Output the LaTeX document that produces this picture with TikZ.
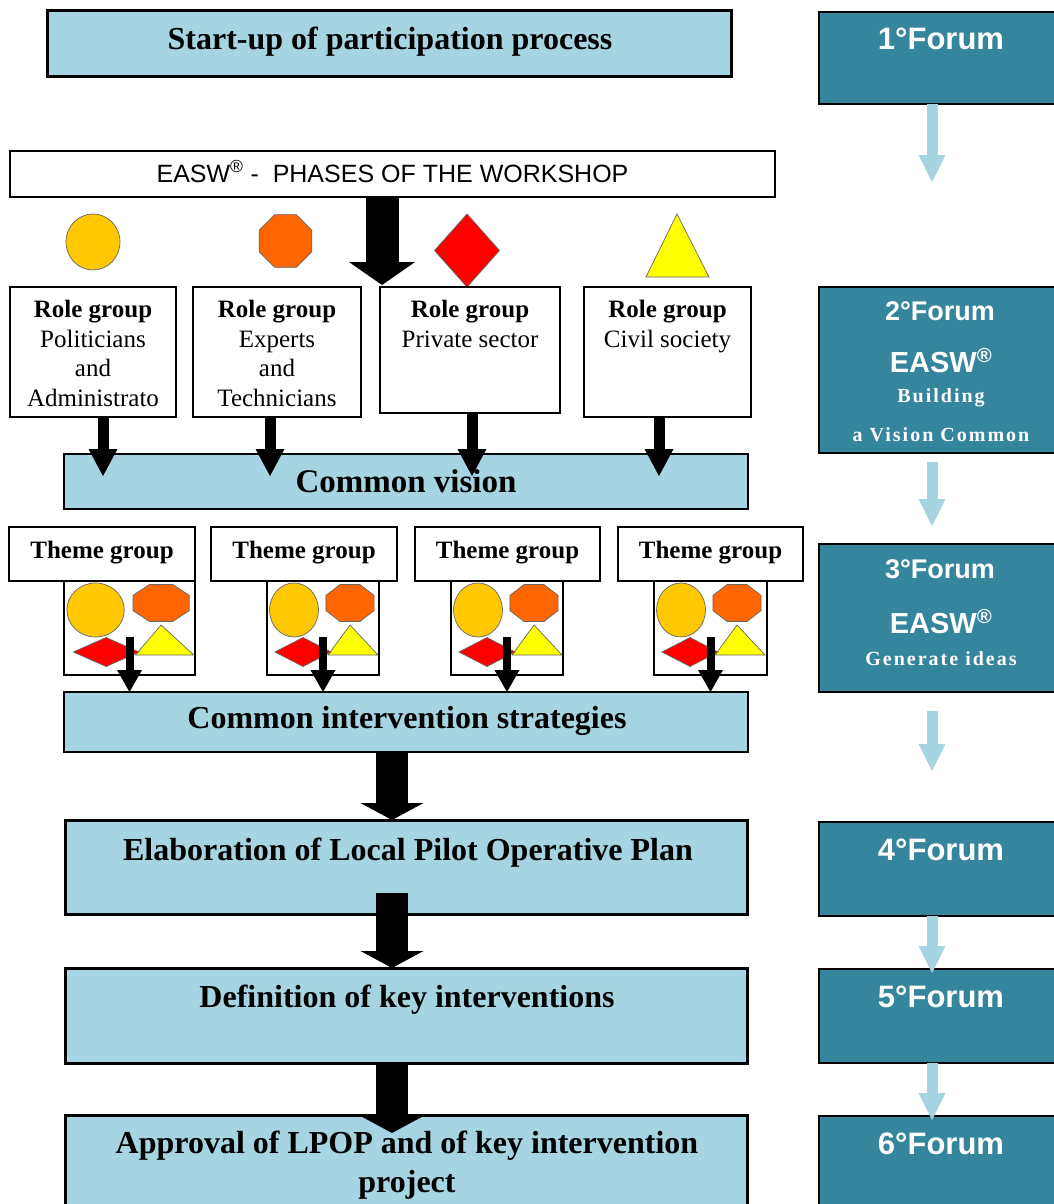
\documentclass[tikz,border=0pt]{standalone}
\usepackage{fontspec}
\setmainfont{Liberation Serif}
\setsansfont{Liberation Sans}
\newfontfamily\spacedserif[LetterSpace=10]{Liberation Serif}
\usetikzlibrary{arrows.meta,calc}
\definecolor{lb}{HTML}{A6D4E2}
\definecolor{tealbox}{HTML}{35859C}
\definecolor{gold}{HTML}{FFC800}
\definecolor{orng}{HTML}{FF6600}
\definecolor{rd}{HTML}{FF0000}
\definecolor{yl}{HTML}{FFFF00}
\tikzset{
  bx/.style={rectangle, inner sep=0pt, outer sep=0pt, draw=black},
  lbbox/.style={bx, fill=lb},
  whitebox/.style={bx, fill=white, line width=1.6pt},
  forumbox/.style={bx, fill=tealbox, line width=1.5pt},
  maintxt/.style={anchor=base, inner sep=0pt, font=\bfseries\fontsize{32}{39}\selectfont},
  roletxt/.style={anchor=north, inner sep=0pt, align=center, font=\fontsize{25}{29.5}\selectfont},
  themetxt/.style={anchor=base, inner sep=0pt, font=\bfseries\fontsize{25}{30}\selectfont},
  forumtxt/.style={anchor=base, inner sep=0pt, text=white, font=\sffamily\bfseries\fontsize{31}{36}\selectfont},
  forumsmall/.style={anchor=base, inner sep=0pt, text=white, font=\sffamily\bfseries\fontsize{27}{32}\selectfont},
  easwtxt/.style={anchor=base, inner sep=0pt, text=white, font=\sffamily\bfseries\fontsize{29}{34}\selectfont},
  subtxt/.style={anchor=base, inner sep=0pt, text=white, font=\spacedserif\bfseries\fontsize{20}{24}\selectfont},
  shapeline/.style={draw=black!60, line width=0.7pt},
  bigarrow/.style={draw=black, line width=32pt, -{Triangle[width=63pt,length=17pt,line width=0pt]}},
  toparrow/.style={draw=black, line width=33pt, -{Triangle[width=66pt,length=23pt,line width=0pt]}},
  rolearrow/.style={draw=black, line width=11pt, -{Triangle[width=29pt,length=27pt,line width=0pt]}},
  themearrow/.style={draw=black, line width=8pt, -{Triangle[width=25pt,length=22pt,line width=0pt]}},
  lightarrow/.style={draw=lb, line width=11pt, -{Triangle[width=27pt,length=27pt,line width=0pt]}},
}
\newcommand\octagonat[4]{\filldraw[shapeline, fill=orng, shift={(#1,#2)}] (22.5:#3pt and #4pt) \foreach \a in {67.5,112.5,...,337.5}{ -- (\a:#3pt and #4pt)} -- cycle;}
\newcommand\diamondat[4]{\filldraw[shapeline, fill=rd] ({#1-#3},#2) -- (#1,{#2-#4}) -- ({#1+#3},#2) -- (#1,{#2+#4}) -- cycle;}
\newcommand\panelshapes[2]{%
  \filldraw[shapeline, fill=gold] ({#1+27*#2},610) ellipse [x radius={24.5pt*#2}, y radius=27pt];
  \octagonat{#1+83*#2}{603}{26*#2}{20}
  \filldraw[shapeline, fill=yl] ({#1+83*#2},625) -- ({#1+61*#2},655) -- ({#1+111*#2},655) -- cycle;
  \diamondat{#1+36*#2}{652}{28*#2}{14.5}
}
\begin{document}
\begin{tikzpicture}[x=1pt,y=-1pt]
\useasboundingbox (0,0) rectangle (1054,1204);
\clip (0,0) rectangle (1054,1204);
\fill[white] (0,0) rectangle (1054,1204);

% left column boxes
\node[lbbox, line width=3pt, minimum width=684pt, minimum height=66pt] (start) at (389,44) {};
\node[bx, fill=white, line width=1.2pt, minimum width=765pt, minimum height=46pt] (phases) at (392.5,174) {};

% role shapes
\filldraw[shapeline, fill=gold] (93,242) ellipse [x radius=27pt, y radius=28pt];
\octagonat{285.5}{241}{28.5}{28.5}
\diamondat{467}{250.5}{32.5}{36.5}
\filldraw[shapeline, fill=yl] (677,214) -- (646,277) -- (709,277) -- cycle;

\node[whitebox, minimum width=166pt, minimum height=130pt] (r1) at (93,352) {};
\node[whitebox, minimum width=168pt, minimum height=130pt] (r2) at (277,352) {};
\node[whitebox, minimum width=180pt, minimum height=126pt] (r3) at (470,350) {};
\node[whitebox, minimum width=167pt, minimum height=130pt] (r4) at (667.5,352) {};

\node[lbbox, line width=2pt, minimum width=684pt, minimum height=55pt] (cv) at (406,481.5) {};

\node[whitebox, minimum width=186pt, minimum height=54pt] (t1) at (102,554) {};
\node[whitebox, minimum width=186pt, minimum height=54pt] (t2) at (304,554) {};
\node[whitebox, minimum width=185pt, minimum height=54pt] (t3) at (507.5,554) {};
\node[whitebox, minimum width=185pt, minimum height=54pt] (t4) at (710.5,554) {};

\node[whitebox, minimum width=131pt, minimum height=94pt] (p1) at (129.5,628) {};
\node[whitebox, minimum width=112pt, minimum height=94pt] (p2) at (323,628) {};
\node[whitebox, minimum width=112pt, minimum height=94pt] (p3) at (507,628) {};
\node[whitebox, minimum width=113pt, minimum height=94pt] (p4) at (710.5,628) {};
\panelshapes{64}{1.17}
\panelshapes{267}{1}
\panelshapes{451}{1}
\panelshapes{654}{1}

\node[lbbox, line width=1.6pt, minimum width=684pt, minimum height=60pt] (cis) at (406,722) {};
\node[lbbox, line width=3pt, minimum width=682pt, minimum height=94pt] (elab) at (406,867) {};
\node[lbbox, line width=3pt, minimum width=682pt, minimum height=95pt] (defn) at (406,1015.5) {};
\node[lbbox, line width=3pt, minimum width=682pt, minimum height=100pt] (appr) at (406,1165) {};

% right column boxes
\node[forumbox, minimum width=245pt, minimum height=92pt] (f1) at (941.5,58) {};
\node[forumbox, minimum width=245pt, minimum height=166pt] (f2) at (941.5,370) {};
\node[forumbox, minimum width=245pt, minimum height=148pt] (f3) at (941.5,618) {};
\node[forumbox, minimum width=245pt, minimum height=94pt] (f4) at (941.5,869) {};
\node[forumbox, minimum width=245pt, minimum height=94pt] (f5) at (941.5,1016) {};
\node[forumbox, minimum width=245pt, minimum height=98pt] (f6) at (941.5,1165) {};

% connectors
\draw[toparrow] ($(phases.south)+(-10.5,0)$) -- ($(r3.north west)+(2,-2)$);
\draw[rolearrow] ($(r1.south)+(10,0)$) -- ($(r1.south |- cv.north)+(10,22)$);
\draw[rolearrow] ($(r2.south)+(-7,0)$) -- ($(r2.south |- cv.north)+(-7,22)$);
\draw[rolearrow] ($(r3.south)+(2,0)$) -- ($(r3.south |- cv.north)+(2,22)$);
\draw[rolearrow] ($(r4.south)+(-8.5,0)$) -- ($(r4.south |- cv.north)+(-8.5,22)$);
\draw[themearrow] ($(p1.south)+(0,-38)$) -- (p1.south |- cis.north);
\draw[themearrow] ($(p2.south)+(0,-38)$) -- (p2.south |- cis.north);
\draw[themearrow] ($(p3.south)+(0,-38)$) -- (p3.south |- cis.north);
\draw[themearrow] ($(p4.south)+(0,-38)$) -- (p4.south |- cis.north);
\draw[bigarrow] ($(cis.south)+(-14,0)$) -- ($(elab.north)+(-14,0)$);
\draw[bigarrow] ($(elab.south)+(-14,-21)$) -- ($(defn.north)+(-14,0)$);
\draw[bigarrow] ($(defn.south)+(-14,0)$) -- ($(appr.north)+(-14,18)$);

\coordinate (f1end) at ($(f1.south)+(-9.5,78)$);
\draw[lightarrow] ($(f1.south)+(-9.5,0)$) -- (f1end);
\draw[lightarrow] ($(f2.south)+(-9.5,9)$) -- ($(f3.north)+(-9.5,-18)$);
\draw[lightarrow] ($(f3.south)+(-9.5,19)$) -- ($(f4.north)+(-9.5,-51)$);
\draw[lightarrow] ($(f4.south)+(-9.5,0)$) -- ($(f5.north)+(-9.5,4)$);
\draw[lightarrow] ($(f5.south)+(-9.5,0)$) -- ($(f6.north)+(-9.5,4)$);

% texts
\node[maintxt] (startT) at (390,50) {Start-up of participation process};
\node[anchor=base, inner sep=0pt, font=\sffamily\fontsize{25}{30}\selectfont] (phasesT) at (392.5,182) {EASW\textsuperscript{®} -\ \ PHASES OF THE WORKSHOP};
\node[roletxt] (r1T) at (93,300) {\textbf{Role group}\\Politicians\\and\\Administrato};
\node[roletxt] (r2T) at (277,300) {\textbf{Role group}\\Experts\\and\\Technicians};
\node[roletxt] (r3T) at (470,300) {\textbf{Role group}\\Private sector};
\node[roletxt] (r4T) at (667.5,300) {\textbf{Role group}\\Civil society};
\node[maintxt, font=\bfseries\fontsize{33}{39}\selectfont] (cvT) at (406,492) {Common vision};
\node[themetxt] (t1T) at (102,558) {Theme group};
\node[themetxt] (t2T) at (304,558) {Theme group};
\node[themetxt] (t3T) at (507.5,558) {Theme group};
\node[themetxt] (t4T) at (710.5,558) {Theme group};
\node[maintxt] (cisT) at (407,728) {Common intervention strategies};
\node[maintxt] (elabT) at (408,860) {Elaboration of Local Pilot Operative Plan};
\node[maintxt] (defnT) at (407,1007) {Definition of key interventions};
\node[maintxt, anchor=north, align=center] (apprT) at (407,1131) {Approval of LPOP and of key intervention\\project};

\node[forumtxt] (f1T) at (941,50) {1°Forum};
\node[forumsmall] (f2T) at (940,320) {2°Forum};
\node[easwtxt] (f2E) at (941,372) {EASW\textsuperscript{®}};
\node[subtxt] (f2a) at (941,402) {Building};
\node[subtxt] (f2b) at (941,441) {a Vision Common};
\node[forumsmall] (f3T) at (940,578) {3°Forum};
\node[easwtxt] (f3E) at (941,633) {EASW\textsuperscript{®}};
\node[subtxt] (f3a) at (941,665) {Generate\ ideas};
\node[forumtxt] (f4T) at (941,860) {4°Forum};
\node[forumtxt] (f5T) at (941,1007) {5°Forum};
\node[forumtxt] (f6T) at (941,1154) {6°Forum};
\end{tikzpicture}
\end{document}
